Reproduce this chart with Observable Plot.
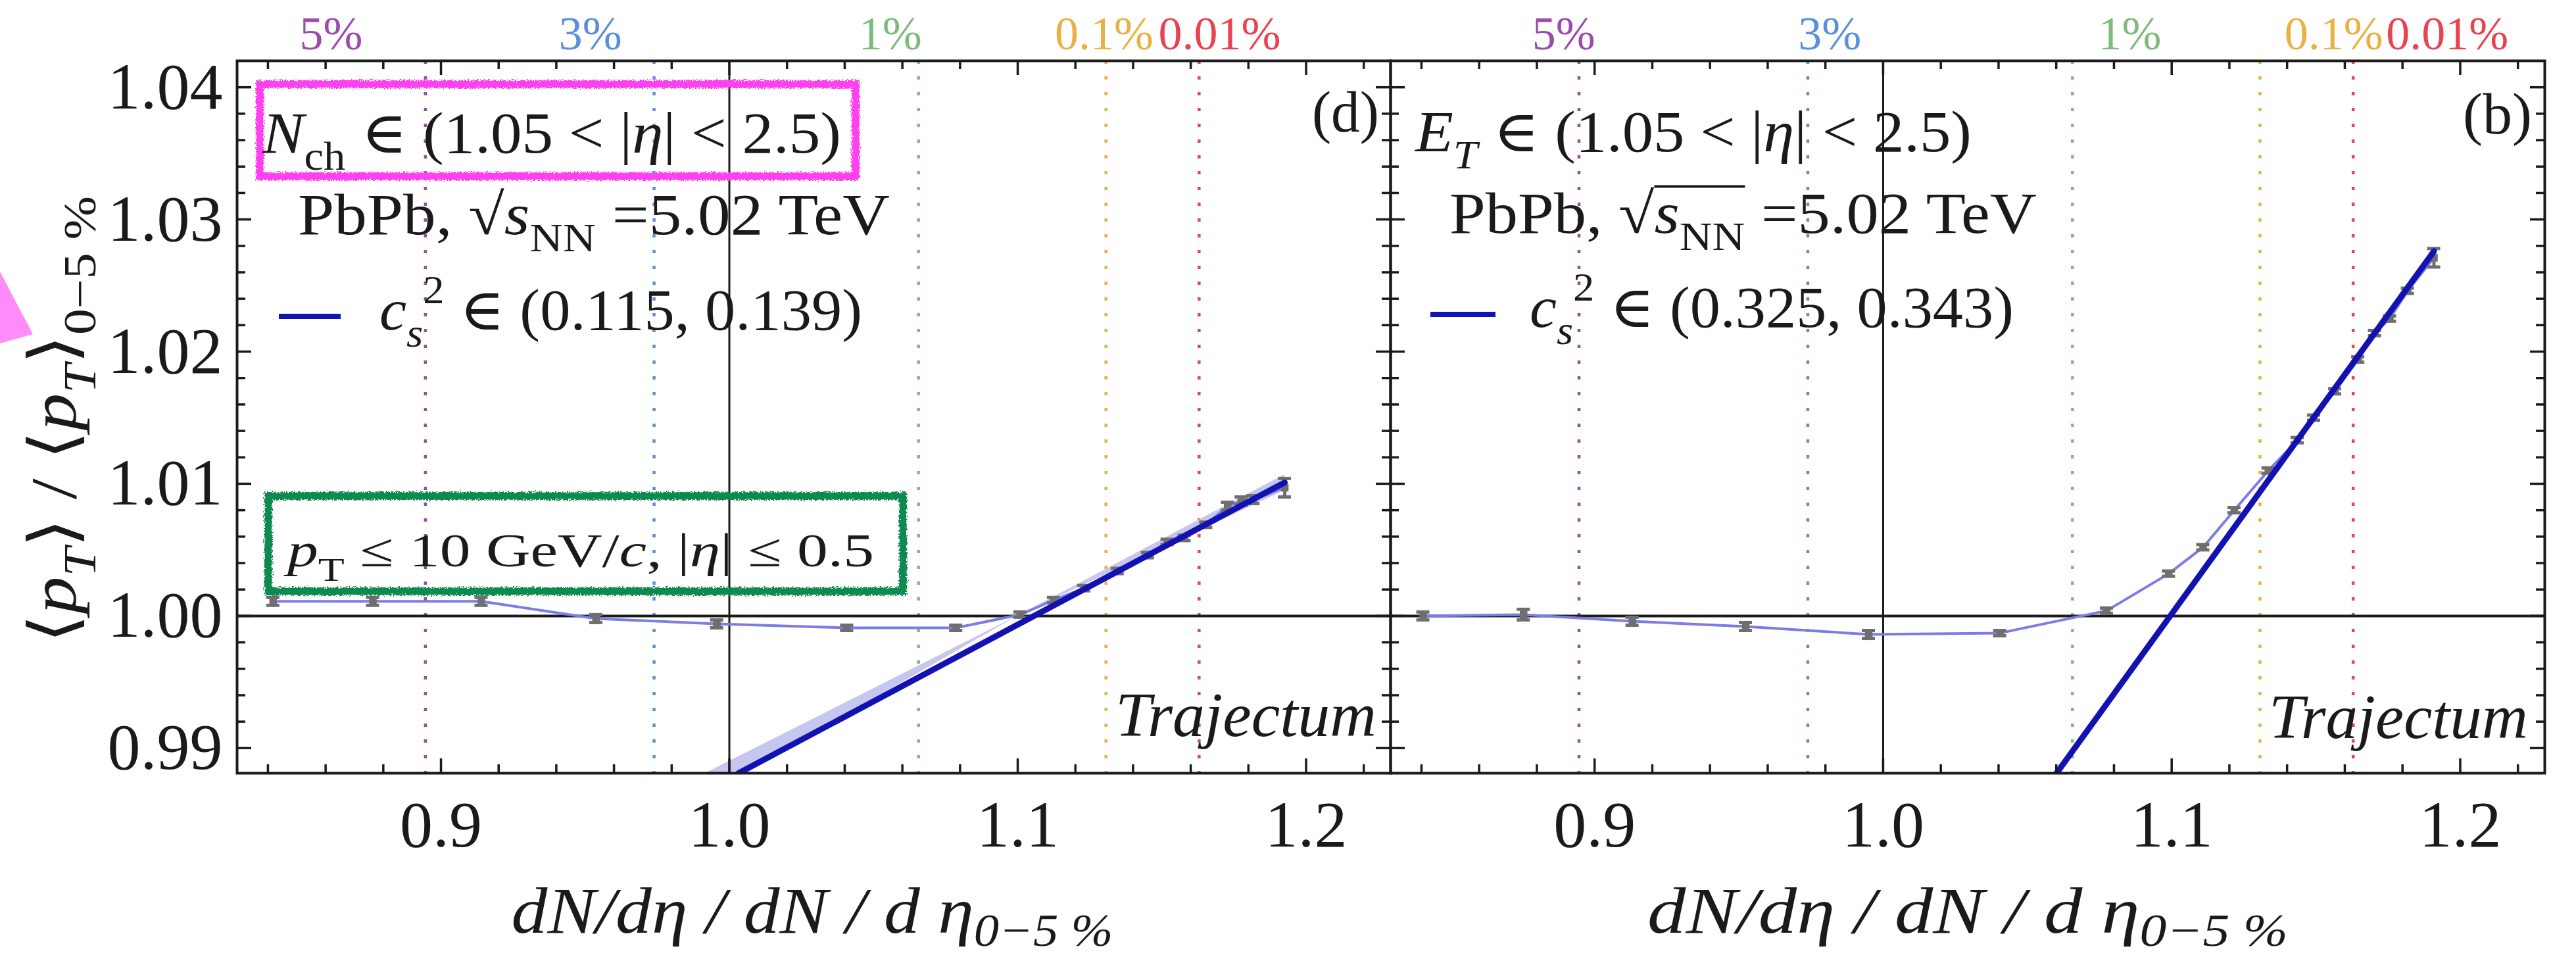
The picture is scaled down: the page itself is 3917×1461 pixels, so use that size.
<!DOCTYPE html>
<html>
<head>
<meta charset="utf-8">
<script src="https://cdn.jsdelivr.net/npm/d3@7"></script>
<script src="https://cdn.jsdelivr.net/npm/@observablehq/plot@0.6"></script>
<style>
  html, body { margin: 0; padding: 0; background: #fff; }
  #fig { position: relative; width: 3917px; height: 1461px; overflow: hidden; background: #fff; }
  #fig svg { position: absolute; top: 0; }
</style>
</head>
<body>
<div id="fig"></div>
<script>
// ---- centrality classes marked along the top of each panel ----
const centLabels = ["5%", "3%", "1%", "0.1%", "0.01%"];
const centColors = ["#9a4cab", "#5a8fd9", "#7dbb7d", "#ebb043", "#e8434e"];
const centX = [0.8946, 0.9739, 1.0656, 1.1306, 1.1629];
const centLabelXN = [0.8619, 0.9518, 1.0558, 1.1300, 1.1700];
const centLabelXE = [0.8893, 0.9815, 1.0855, 1.1562, 1.1955];

// ---- panel (d): N_ch estimator ----
const multN = [0.8418, 0.8764, 0.9140, 0.9538, 0.9957, 1.0408, 1.0786, 1.1009, 1.1125, 1.1230,
               1.1346, 1.1451, 1.1519, 1.1578, 1.1653, 1.1728, 1.1776, 1.1817, 1.1926];
const ratioN = [1.0011, 1.0011, 1.0011, 0.9998, 0.9994, 0.9991, 0.9991, 1.0001, 1.0012, 1.0021,
                1.0034, 1.0046, 1.0056, 1.0059, 1.0069, 1.0083, 1.0087, 1.0088, 1.0097];
const errN = [0.0003, 0.0003, 0.0003, 0.0003, 0.0003, 0.0002, 0.0002, 0.0002, 0.0002, 0.0002,
              0.0002, 0.0002, 0.0002, 0.0002, 0.0002, 0.0003, 0.0003, 0.0003, 0.0007];
const fitXN = [1.0032, 1.1926];
const fitYN = [0.98810, 1.01010];
const bandXN = [0.975, 1.100, 1.1926];
const bandLoN = [0.98430, 1.0000, 1.00950];
const bandHiN = [0.98626, 1.0000, 1.01070];

// ---- panel (b): E_T estimator ----
const multE = [0.8406, 0.8754, 0.9131, 0.9524, 0.9950, 1.0405, 1.0775, 1.0990, 1.1109, 1.1217,
               1.1335, 1.1436, 1.1493, 1.1566, 1.1646, 1.1704, 1.1756, 1.1818, 1.1909];
const ratioE = [1.0000, 1.0001, 0.9996, 0.9992, 0.9986, 0.9987, 1.0004, 1.0032, 1.0052, 1.0080,
                1.0110, 1.0133, 1.0150, 1.0170, 1.0194, 1.0214, 1.0225, 1.0246, 1.0271];
const errE = [0.0003, 0.0004, 0.0003, 0.0003, 0.0003, 0.0002, 0.0002, 0.0002, 0.0002, 0.0002,
              0.0002, 0.0002, 0.0002, 0.0002, 0.0002, 0.0002, 0.0002, 0.0002, 0.0007];
const fitXE = [1.0560, 1.1909];
const fitYE = [0.98686, 1.0276];

// ---- axes ----
const xDomain = [0.8293, 1.2293];
const yDomain = [0.9881, 1.0420];
const xMajor = [0.9, 1.0, 1.1, 1.2];
const yMajor = [0.99, 1.00, 1.01, 1.02, 1.03, 1.04];
const xMinor = [0.84, 0.86, 0.88, 0.92, 0.94, 0.96, 0.98, 1.02, 1.04, 1.06, 1.08,
                1.12, 1.14, 1.16, 1.18, 1.22];
const yMinor = [0.992, 0.994, 0.996, 0.998, 1.002, 1.004, 1.006, 1.008, 1.012, 1.014, 1.016, 1.018,
                1.022, 1.024, 1.026, 1.028, 1.032, 1.034, 1.036, 1.038];

const serif = "Liberation Serif, Times New Roman, DejaVu Serif, serif";
const ink = "#1a1a1a";
const gray = "#6f6f6f";
const traceBlue = "#7c7ce6";
const fitBlue = "#1212b2";
const bandFill = "#c6c6f1";

// inward frame ticks on all four sides
function frameTicks(xs, ys, len) {
  const o = {stroke: ink, strokeWidth: 3.5};
  return [
    Plot.ruleY(ys, {y: d => d, x1: xDomain[0], x2: xDomain[0], insetRight: -len, ...o}),
    Plot.ruleY(ys, {y: d => d, x1: xDomain[1], x2: xDomain[1], insetLeft: -len, ...o}),
    Plot.ruleX(xs, {x: d => d, y1: yDomain[0], y2: yDomain[0], insetTop: -len, ...o}),
    Plot.ruleX(xs, {x: d => d, y1: yDomain[1], y2: yDomain[1], insetBottom: -len, ...o})
  ];
}

function panel(cfg) {
  const pts = cfg.mult.map((x, i) => ({x, y: cfg.ratio[i], e: cfg.err[i]}));
  const fit = cfg.fitX.map((x, i) => ({x, y: cfg.fitY[i]}));
  const band = (cfg.bandX || []).map((x, i) => ({x, y1: cfg.bandLo[i], y2: cfg.bandHi[i]}));
  const cent = centLabels.map((label, i) => ({label, x: centX[i], lx: cfg.labelX[i], c: centColors[i]}));
  const marks = [
    Plot.ruleX(cent, {x: "x", stroke: "c", strokeWidth: 4.5, strokeDasharray: "5,19"}),
    Plot.text(cent, {x: "lx", text: "label", fill: "c", frameAnchor: "top", lineAnchor: "bottom",
                     dy: -18, fontSize: 72, fontFamily: serif}),
    Plot.areaY(band, {x: "x", y1: "y1", y2: "y2", fill: bandFill, clip: true}),
    Plot.ruleY([1], {stroke: ink, strokeWidth: 4}),
    Plot.ruleX([1], {stroke: ink, strokeWidth: 3}),
    Plot.line(pts, {x: "x", y: "y", stroke: traceBlue, strokeWidth: 4}),
    Plot.ruleX(pts, {x: "x", y1: d => d.y - d.e, y2: d => d.y + d.e, stroke: gray, strokeWidth: 5}),
    Plot.ruleY(pts, {y: d => d.y - d.e, x1: "x", x2: "x", insetLeft: -10, insetRight: -10, stroke: gray, strokeWidth: 5}),
    Plot.ruleY(pts, {y: d => d.y + d.e, x1: "x", x2: "x", insetLeft: -10, insetRight: -10, stroke: gray, strokeWidth: 5}),
    Plot.dot(pts, {x: "x", y: "y", symbol: "square", r: 6.5, fill: gray}),
    Plot.line(fit, {x: "x", y: "y", stroke: fitBlue, strokeWidth: 9, clip: true}),
    Plot.frame({stroke: ink, strokeWidth: 4}),
    ...frameTicks(xMajor, yMajor, 22),
    ...frameTicks(xMinor, yMinor, 13),
    Plot.axisX(xMajor, {anchor: "bottom", tickSize: 0, tickPadding: 40, fontSize: 100, fontFamily: serif,
                        tickFormat: d => d.toFixed(1), label: null, color: ink})
  ];
  if (cfg.yLabels) {
    marks.push(Plot.axisY(yMajor, {anchor: "left", tickSize: 0, tickPadding: 22, fontSize: 100, fontFamily: serif,
                                   tickFormat: d => d.toFixed(2), label: null, color: ink}));
  }
  return Plot.plot({
    width: cfg.width, height: 1461,
    marginTop: 92, marginBottom: 286, marginLeft: cfg.marginLeft, marginRight: cfg.marginRight,
    x: {domain: xDomain, axis: null},
    y: {domain: yDomain, axis: null},
    color: {type: "identity"},
    style: {background: "transparent", fontFamily: serif, overflow: "visible"},
    marks
  });
}

// text with italic / sub / superscript runs, stretched to a given width
function richText(svg, parts, {x, y, size, width, anchor = "start", rotate = 0, sub = 0.3}) {
  const g = svg.append("g");
  const t = g.append("text")
    .attr("font-family", serif).attr("font-size", size).attr("fill", ink)
    .attr("text-anchor", anchor).style("white-space", "pre");
  let shift = 0;
  for (const p of parts) {
    const level = p.sub ? sub * size : p.sup ? -0.45 * size : 0;
    const s = t.append("tspan").text(p.t);
    if (level !== shift) s.attr("dy", level - shift);
    shift = level;
    if (p.sub || p.sup) s.attr("font-size", size * 0.7);
    if (p.i) s.attr("font-style", "italic");
  }
  const w = t.node().getComputedTextLength();
  const k = width ? width / w : 1;
  g.attr("transform", `translate(${x},${y}) rotate(${rotate}) scale(${k},1)`);
  return {g, t, k};
}

const xLabelParts = [
  {t: "dN", i: 1}, {t: "/", i: 1}, {t: "d\u03b7", i: 1}, {t: " / ", i: 1}, {t: "dN", i: 1},
  {t: " / ", i: 1}, {t: "d \u03b7", i: 1}, {t: "0\u22125 %", sub: 1, i: 1}
];
const yLabelParts = [
  {t: "\u27e8"}, {t: "p", i: 1}, {t: "T", sub: 1, i: 1}, {t: "\u27e9 / \u27e8"}, {t: "p", i: 1},
  {t: "T", sub: 1, i: 1}, {t: "\u27e9"}, {t: "0\u22125 %", sub: 1}
];
const sqrtParts = [{t: "PbPb, \u221a"}, {t: "s", i: 1}, {t: "NN", sub: 1}, {t: " =5.02 TeV"}];
const legendParts = (lo, hi) => [
  {t: "c", i: 1}, {t: "s", sub: 1, i: 1}, {t: "2", sup: 1}, {t: ` \u2208 (${lo}, ${hi})`}
];

const fig = document.getElementById("fig");

// ---------- left panel (d) ----------
const left = panel({
  mult: multN, ratio: ratioN, err: errN, fitX: fitXN, fitY: fitYN,
  bandX: bandXN, bandLo: bandLoN, bandHi: bandHiN, labelX: centLabelXN,
  yLabels: true, width: 2120, marginLeft: 360, marginRight: 6
});
left.style.left = "0px";
fig.appendChild(left);
const L = d3.select(left);

const defs = L.append("defs");
const rough = defs.append("filter").attr("id", "rough").attr("x", "-5%").attr("y", "-20%")
  .attr("width", "110%").attr("height", "140%");
rough.append("feTurbulence").attr("type", "fractalNoise").attr("baseFrequency", 0.45)
  .attr("numOctaves", 2).attr("seed", 4).attr("result", "noise");
rough.append("feDisplacementMap").attr("in", "SourceGraphic").attr("in2", "noise")
  .attr("scale", 9).attr("xChannelSelector", "R").attr("yChannelSelector", "G");

// pointer wedge at the left edge
L.append("polygon").attr("points", "0,413 50,508 0,522").attr("fill", "#ff8cf8");

// highlight boxes
L.append("rect").attr("x", 395).attr("y", 128).attr("width", 906).attr("height", 140)
  .attr("fill", "none").attr("stroke", "#ff3ff0").attr("stroke-width", 12).attr("filter", "url(#rough)");
L.append("rect").attr("x", 408).attr("y", 754).attr("width", 965).attr("height", 145)
  .attr("fill", "none").attr("stroke", "#0b8a50").attr("stroke-width", 12).attr("filter", "url(#rough)");

richText(L, [{t: "N", i: 1}, {t: "ch", sub: 1}, {t: " \u2208 (1.05 < |"}, {t: "\u03b7", i: 1}, {t: "| < 2.5)"}],
  {x: 399, y: 232, size: 88, width: 880});
richText(L, sqrtParts, {x: 453, y: 356, size: 88, width: 900});
L.append("line").attr("x1", 424).attr("x2", 518).attr("y1", 481).attr("y2", 481)
  .attr("stroke", fitBlue).attr("stroke-width", 8);
richText(L, legendParts("0.115", "0.139"), {x: 577, y: 501, size: 88, width: 734});
richText(L, [{t: "(d)"}], {x: 1995, y: 200, size: 88, width: 102});
richText(L, [{t: "p", i: 1}, {t: "T", sub: 1}, {t: " \u2264 10 GeV/"}, {t: "c", i: 1}, {t: ", |"},
             {t: "\u03b7", i: 1}, {t: "| \u2264 0.5"}],
  {x: 437, y: 861, size: 72, width: 892});
richText(L, [{t: "Trajectum", i: 1}], {x: 1696, y: 1119, size: 96, width: 397});
richText(L, yLabelParts, {x: 115, y: 638, size: 100, width: 680, anchor: "middle", rotate: -90});
richText(L, xLabelParts, {x: 1235, y: 1418, size: 100, width: 915, anchor: "middle", sub: 0.2});

// ---------- right panel (b) ----------
const offset = 2108;
const right = panel({
  mult: multE, ratio: ratioE, err: errE, fitX: fitXE, fitY: fitYE,
  labelX: centLabelXE, yLabels: false, width: 3917 - offset, marginLeft: 6, marginRight: 48
});
right.style.left = offset + "px";
fig.appendChild(right);
const R = d3.select(right);

richText(R, [{t: "E", i: 1}, {t: "T", sub: 1, i: 1}, {t: " \u2208 (1.05 < |"}, {t: "\u03b7", i: 1}, {t: "| < 2.5)"}],
  {x: 2152 - offset, y: 230, size: 88, width: 846});
const pb = richText(R, sqrtParts, {x: 2204 - offset, y: 354, size: 88, width: 893});
{
  const node = pb.t.node();
  const a = node.getEndPositionOfChar(6).x;
  const b = node.getEndPositionOfChar(9).x;
  pb.g.append("line").attr("x1", a).attr("x2", b).attr("y1", -0.8 * 88).attr("y2", -0.8 * 88)
    .attr("stroke", ink).attr("stroke-width", 4);
}
R.append("line").attr("x1", 2175 - offset).attr("x2", 2274 - offset).attr("y1", 478).attr("y2", 478)
  .attr("stroke", fitBlue).attr("stroke-width", 8);
richText(R, legendParts("0.325", "0.343"), {x: 2326 - offset, y: 497, size: 88, width: 736});
richText(R, [{t: "(b)"}], {x: 3745 - offset, y: 203, size: 88, width: 105});
richText(R, [{t: "Trajectum", i: 1}], {x: 3450 - offset, y: 1122, size: 96, width: 394});
richText(R, xLabelParts, {x: 2992 - offset, y: 1418, size: 100, width: 974, anchor: "middle", sub: 0.2});
</script>
</body>
</html>
